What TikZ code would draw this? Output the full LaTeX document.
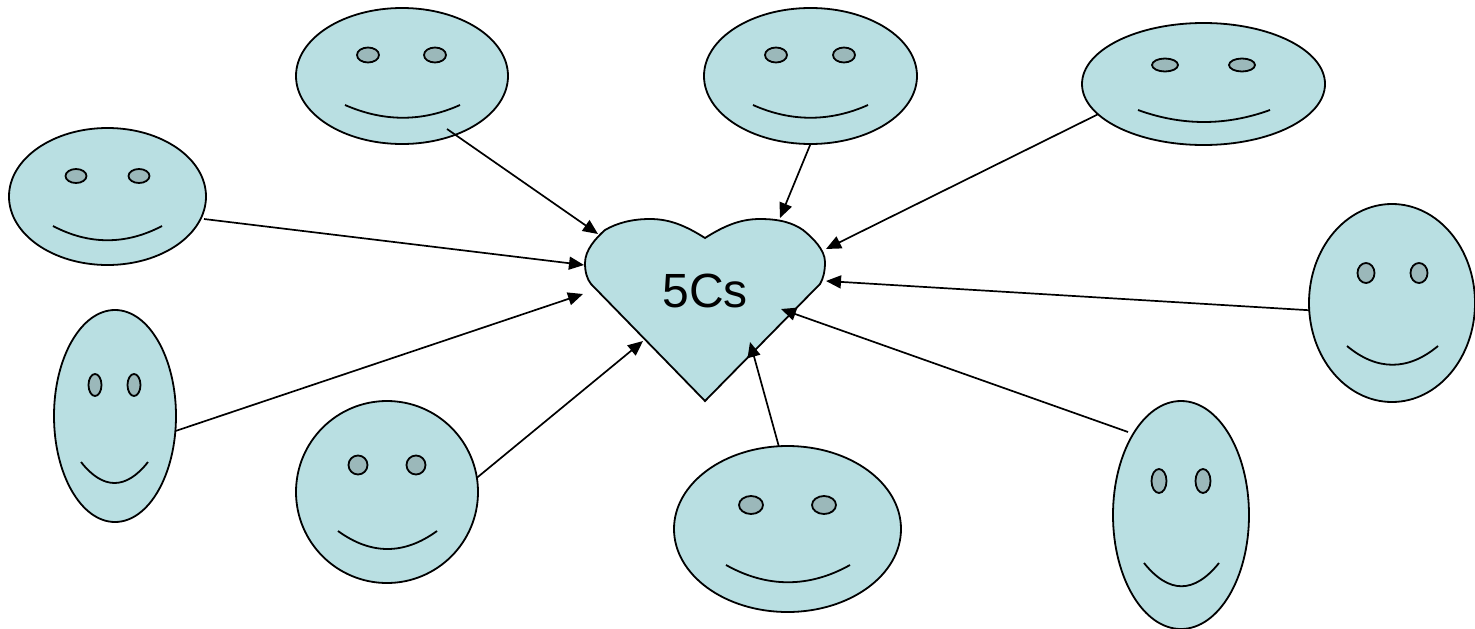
\documentclass[tikz,border=0pt]{standalone}
\usepackage{fontspec}
\setmainfont{Liberation Sans}
\usetikzlibrary{shapes.geometric}
\usetikzlibrary{arrows.meta}
\definecolor{colorFace}{HTML}{B9DFE2}
\definecolor{colorEye}{HTML}{9BB8BA}
\tikzset{
   every path/.style={>={Triangle[length=15pt,width=13pt]}},
   face/.style 2 args={ellipse,draw=black,line width=1.8pt,fill=colorFace,
     inner sep=0pt,outer sep=0pt,minimum width=#1pt,minimum height=#2pt},
   eye/.style 2 args={ellipse,draw=black,line width=1.8pt,fill=colorEye,
     inner sep=0pt,outer sep=0pt,minimum width=#1pt,minimum height=#2pt},
   mouth/.style={draw=black,line width=1.8pt},
   heart/.style={draw=black,line width=1.8pt,fill=colorFace},
   link/.style={->,color=black,line width=1.7pt},
}
\begin{document}
\begin{tikzpicture}[x=1pt,y=-1pt]
  \useasboundingbox (0,0) rectangle (1475,629);

  \node[face={212}{136}] (f1) at (402, 76)    {};
  \node[eye={22}{15}]    (e11) at (368, 55)   {};
  \node[eye={22}{15}]    (e12) at (435, 55)   {};
  \draw[mouth] (345,105) .. controls (384,122) and (422,122) .. (460,105);

  \node[face={213}{136}] (f2) at (810.5, 76)  {};
  \node[eye={22}{15}]    (e21) at (776, 55)   {};
  \node[eye={22}{15}]    (e22) at (844, 55)   {};
  \draw[mouth] (753,105) .. controls (791,122) and (830,122) .. (868,105);

  \node[face={243}{122}] (f3) at (1203.5, 84) {};
  \node[eye={26}{13}]    (e31) at (1165, 65)  {};
  \node[eye={26}{13}]    (e32) at (1242, 65)  {};
  \draw[mouth] (1138,110) .. controls (1182,126) and (1226,126) .. (1270,110);

  \node[face={197}{137}] (f4) at (107.5, 196.5) {};
  \node[eye={21}{14}]    (e41) at (76, 176)   {};
  \node[eye={21}{14}]    (e42) at (139, 176)  {};
  \draw[mouth] (53,226) .. controls (89,245) and (126,245) .. (162,226);

  \node[face={166}{198}] (f5) at (1392, 303)  {};
  \node[eye={17}{20}]    (e51) at (1366, 273) {};
  \node[eye={17}{20}]    (e52) at (1419, 273) {};
  \draw[mouth] (1347,346) .. controls (1377,371) and (1408,371) .. (1438,346);

  \node[face={122}{212}] (f6) at (115, 416)   {};
  \node[eye={13}{22}]    (e61) at (95, 385)   {};
  \node[eye={13}{22}]    (e62) at (134, 385)  {};
  \draw[mouth] (81,462) .. controls (103,490) and (126,490) .. (148,462);

  \node[face={182}{182}] (f7) at (387, 492)   {};
  \node[eye={19}{19}]    (e71) at (358, 465)  {};
  \node[eye={19}{19}]    (e72) at (416, 465)  {};
  \draw[mouth] (338,531) .. controls (371,555) and (404,555) .. (437,531);

  \node[face={227}{166}] (f8) at (787.5, 529) {};
  \node[eye={24}{18}]    (e81) at (751, 505)  {};
  \node[eye={24}{18}]    (e82) at (824, 505)  {};
  \draw[mouth] (726,565) .. controls (767,588) and (809,588) .. (850,565);

  \node[face={136}{228}] (f9) at (1181, 515)  {};
  \node[eye={15}{24}]    (e91) at (1159, 481) {};
  \node[eye={15}{24}]    (e92) at (1203, 481) {};
  \draw[mouth] (1144,563) .. controls (1169,594) and (1194,594) .. (1219,563);

  \draw[heart] (705,238) .. controls (686,226) and (670,219) .. (650,219)
    .. controls (632,219) and (617,223) .. (605,230)
    .. controls (596,238) and (585,250) .. (585,263)
    .. controls (585,272) and (587,279) .. (591,284)
    -- (705,401) -- (820,284)
    .. controls (823,279) and (825,272) .. (825,262)
    .. controls (825,250) and (813,238) .. (803,230)
    .. controls (793,223) and (780,219) .. (760,219)
    .. controls (740,219) and (724,226) .. (705,238) -- cycle;
  \node[font=\fontsize{48}{48}\selectfont] (label) at (705, 291) {5Cs};

  \coordinate (s1) at (447, 129);
  \coordinate (s4) at (204, 219);
  \coordinate (s9) at (1128, 432);
  \coordinate (t1) at (598, 234);
  \coordinate (t2) at (780, 218);
  \coordinate (t3) at (826, 249);
  \coordinate (t4) at (584, 265);
  \coordinate (t5) at (826, 281);
  \coordinate (t6) at (583, 294);
  \coordinate (t7) at (643, 341);
  \coordinate (t8) at (750, 342);
  \coordinate (t9) at (781, 309);

  \draw[link] (s1)     -- (t1);
  \draw[link] (f2.south) -- (t2);
  \draw[link] (f3.196) -- (t3);
  \draw[link] (s4)     -- (t4);
  \draw[link] (f5.185) -- (t5);
  \draw[link] (f6.346) -- (t6);
  \draw[link] (f7.9)   -- (t7);
  \draw[link] (f8.96)  -- (t8);
  \draw[link] (s9)     -- (t9);
\end{tikzpicture}
\end{document}
